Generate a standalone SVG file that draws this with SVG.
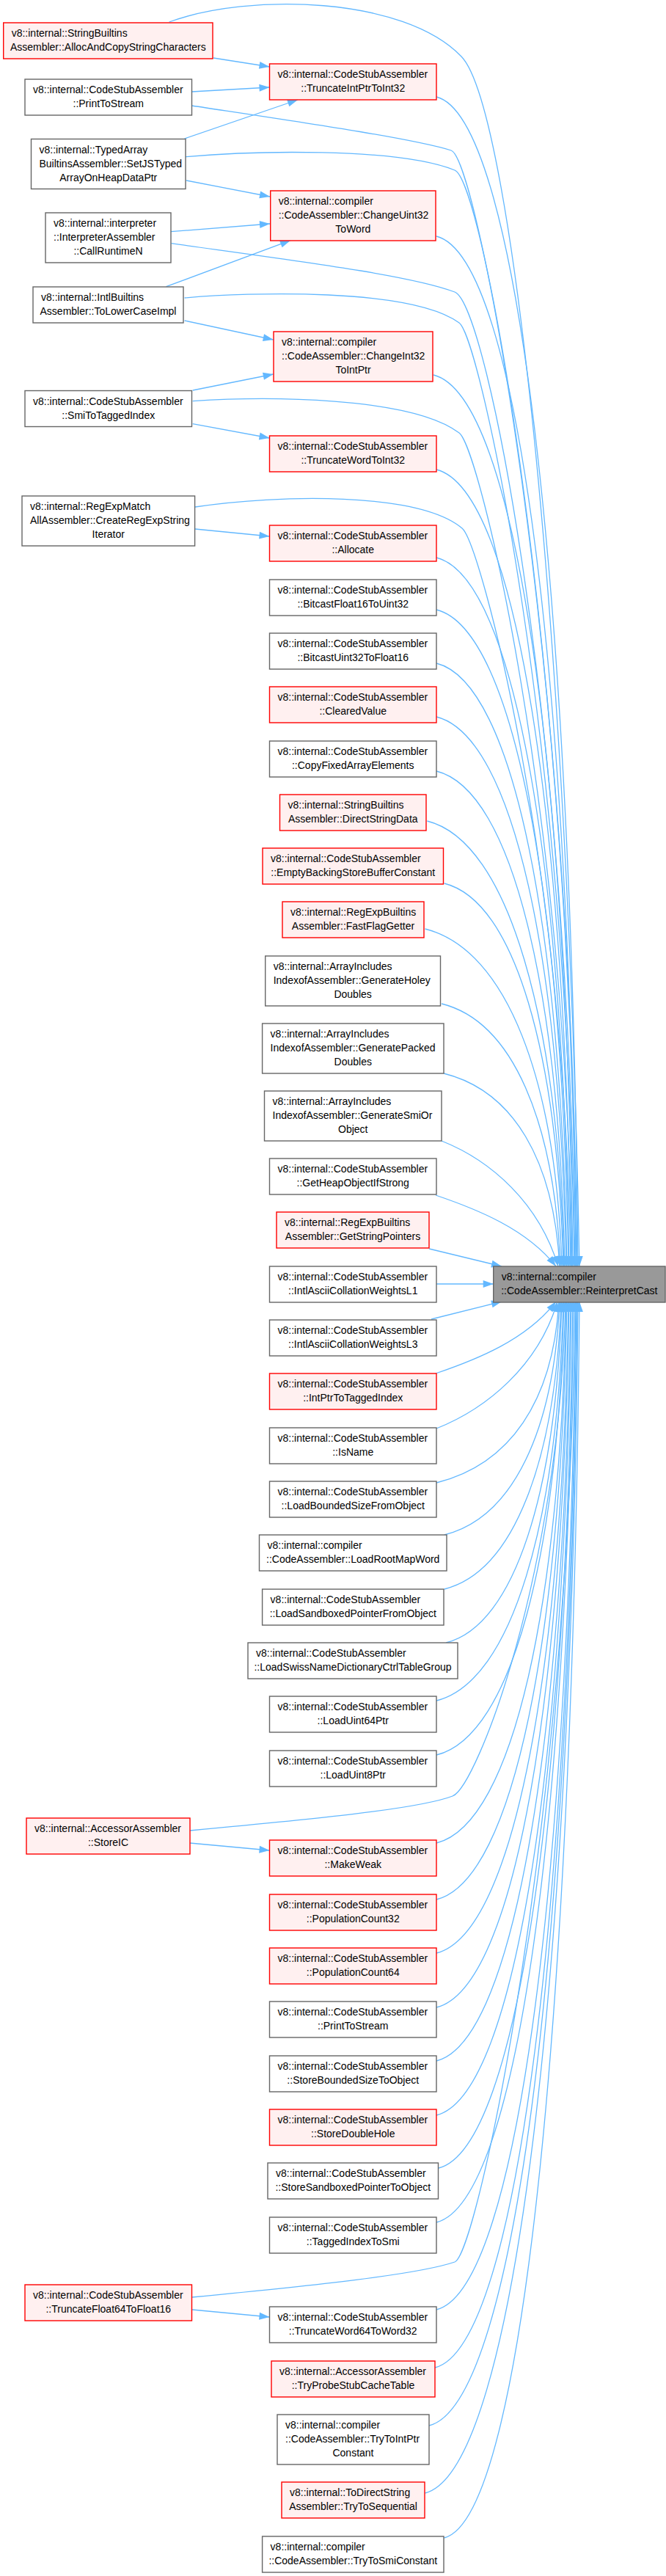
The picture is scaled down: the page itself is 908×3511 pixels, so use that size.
<svg xmlns="http://www.w3.org/2000/svg" width="908" height="3511" viewBox="0 0 908 3511">
<style>
rect{stroke-width:1.4}
.n rect{fill:#ffffff;stroke:#666666}
.r rect{fill:#fff0f0;stroke:#ff0000}
.root rect{fill:#999999;stroke:#666666}
text{font-family:"Liberation Sans",Arial,sans-serif;font-size:14px;fill:#000000}
.c{text-anchor:middle}
.edges path{fill:none;stroke:#63b8ff;stroke-width:1.3;marker-end:url(#ah)}
</style>
<defs>
<marker id="ah" markerUnits="userSpaceOnUse" markerWidth="15" markerHeight="11" refX="14" refY="5" orient="auto" overflow="visible">
<path d="M0,0 L14,5 L0,10 z" fill="#63b8ff"/>
</marker>
</defs>
<rect x="0" y="0" width="908" height="3511" fill="#ffffff" stroke="none"/>
<g id="edges" class="edges">
<path d="M291,79 L367.5,91"/>
<path d="M261.5,125 L367.5,119"/>
<path d="M251.6,189 L406,136"/>
<path d="M254,246 L368,268"/>
<path d="M233,315.7 L368,305"/>
<path d="M226.5,390.7 L396,327.7"/>
<path d="M251.6,437 L372.7,463"/>
<path d="M262.7,532 L372.7,510"/>
<path d="M262.7,577.7 L367.5,597"/>
<path d="M266,721 L367.5,731"/>
<path d="M259,2512 L367.5,2522"/>
<path d="M262,3148 L367.5,3158"/>
<path d="M230.6,30 C340,-10 550,-5 629,77 C700,150 775,900 790,1726"/>
<path d="M261.5,144 C400,165 560,188 615,205 C651,216 779,889 787,1726"/>
<path d="M253,213.7 C340,206 540,200 620,232 C660,248 778,904 786,1726"/>
<path d="M233.5,331.7 C400,355 560,375 620,398 C665,415 776,996 784,1726"/>
<path d="M251.6,406 C340,398 560,392 626,440 C655,461 775,1019 783,1726"/>
<path d="M262.7,546.7 C360,540 560,540 626,590 C654,611 772,1101 780,1726"/>
<path d="M266,691 C380,674 570,670 630,720 C655,741 770,1173 778,1726"/>
<path d="M595,132 C710.8,161 780,849 788,1726"/>
<path d="M595,322 C709,350.5 777,954 785,1726"/>
<path d="M591,511 C705,539.5 773,1058 781,1726"/>
<path d="M595,640 C705.4,667.6 771,1129 779,1726"/>
<path d="M595,760 C703.6,787 768,1195 776,1726"/>
<path d="M595,831 C703,858 767,1234 775,1726"/>
<path d="M595,904 C701.8,930.7 765,1274 773,1726"/>
<path d="M595,977 C701.2,1003.6 764,1314 772,1726"/>
<path d="M595,1051 C700,1077 762,1355 770,1726"/>
<path d="M582.4,1119 C694.4,1147 761,1392 769,1726"/>
<path d="M605.7,1204 C703,1228.3 760,1439 768,1726"/>
<path d="M579.5,1266 C691.4,1294 758,1473 766,1726"/>
<path d="M602,1368 C699.2,1392.3 756,1529 764,1726"/>
<path d="M605,1463 C699.8,1486.7 755,1581 763,1726"/>
<path d="M602,1555 C670,1582 735,1640 761,1726"/>
<path d="M594,1629 C650,1648 718,1675 758,1726"/>
<path d="M585,1702 L684,1726"/>
<path d="M595,1750 L672.7,1750"/>
<path d="M588,1798 L684,1774"/>
<path d="M594,1872 C650,1853 718,1826 758,1774"/>
<path d="M595,1947 C663,1920 734,1862 760,1774"/>
<path d="M595,2021 C695.2,1996 754,1910 762,1774"/>
<path d="M605.7,2092 C700,2068.4 755,1949 763,1774"/>
<path d="M605.7,2166 C701.3,2142 757,1989.6 765,1774"/>
<path d="M608,2239 C702.8,2215.3 758,2030 766,1774"/>
<path d="M595,2318 C698.8,2292 760,2073 768,1774"/>
<path d="M595,2392 C699.4,2366 761,2114 769,1774"/>
<path d="M259,2495 C420,2480 570,2466 617,2448 C650,2435 763,2145 771,1774"/>
<path d="M595,2512 C701.2,2485.5 764,2180 772,1774"/>
<path d="M595,2589 C701.8,2562.3 765,2222 773,1774"/>
<path d="M595,2662 C703,2635 767,2262 775,1774"/>
<path d="M595,2736 C703.6,2708.9 768,2303 776,1774"/>
<path d="M595,2809 C704.8,2781.6 770,2343 778,1774"/>
<path d="M595,2883 C705.4,2855.4 771,2384 779,1774"/>
<path d="M598,2955 C707.8,2927.6 773,2423.5 781,1774"/>
<path d="M595,3029 C707.2,3001 774,2464 782,1774"/>
<path d="M262,3131 C430,3115 570,3100 620,3083 C650,3072 776,2494 784,1774"/>
<path d="M595,3148 C709,3119.5 777,2529.7 785,1774"/>
<path d="M593,3227 C708.8,3198 778,2573 786,1774"/>
<path d="M585,3306 C706.2,3275.7 779,2616.6 787,1774"/>
<path d="M579.5,3398 C704.6,3366.7 780,2667 788,1774"/>
<path d="M605.7,3459 C716.3,3431.4 782,2701 790,1774"/>
</g>
<g id="root" class="root"><rect x="672.7" y="1726" width="234.3" height="49"/><text x="683.7" y="1745">v8::internal::compiler</text><text class="c" x="789.85" y="1764">::CodeAssembler::ReinterpretCast</text></g>
<g id="L1" class="r"><rect x="4.7" y="31" width="285.3" height="49"/><text x="15.7" y="50">v8::internal::StringBuiltins</text><text class="c" x="147.35" y="69">Assembler::AllocAndCopyStringCharacters</text></g>
<g id="L2" class="n"><rect x="34" y="108" width="227.5" height="49"/><text x="45" y="127">v8::internal::CodeStubAssembler</text><text class="c" x="147.75" y="146">::PrintToStream</text></g>
<g id="L3" class="n"><rect x="42.5" y="189.5" width="210.5" height="68"/><text x="53.5" y="208.5">v8::internal::TypedArray</text><text x="53.5" y="227.5">BuiltinsAssembler::SetJSTyped</text><text class="c" x="147.75" y="246.5">ArrayOnHeapDataPtr</text></g>
<g id="L4" class="n"><rect x="62" y="290" width="171" height="68"/><text x="73" y="309">v8::internal::interpreter</text><text x="73" y="328">::InterpreterAssembler</text><text class="c" x="147.5" y="347">::CallRuntimeN</text></g>
<g id="L5" class="n"><rect x="45" y="391" width="205" height="49"/><text x="56" y="410">v8::internal::IntlBuiltins</text><text class="c" x="147.5" y="429">Assembler::ToLowerCaseImpl</text></g>
<g id="L6" class="n"><rect x="34" y="532.5" width="227.5" height="49"/><text x="45" y="551.5">v8::internal::CodeStubAssembler</text><text class="c" x="147.75" y="570.5">::SmiToTaggedIndex</text></g>
<g id="L7" class="n"><rect x="30" y="676" width="235.6" height="68"/><text x="41" y="695">v8::internal::RegExpMatch</text><text x="41" y="714">AllAssembler::CreateRegExpString</text><text class="c" x="147.8" y="733">Iterator</text></g>
<g id="L8" class="r"><rect x="36" y="2478" width="223" height="49"/><text x="47" y="2497">v8::internal::AccessorAssembler</text><text class="c" x="147.5" y="2516">::StoreIC</text></g>
<g id="L9" class="r"><rect x="34" y="3114" width="227.5" height="49"/><text x="45" y="3133">v8::internal::CodeStubAssembler</text><text class="c" x="147.75" y="3152">::TruncateFloat64ToFloat16</text></g>
<g id="M1" class="r"><rect x="367.5" y="87" width="227.5" height="49"/><text x="378.5" y="106">v8::internal::CodeStubAssembler</text><text class="c" x="481.25" y="125">::TruncateIntPtrToInt32</text></g>
<g id="M2" class="r"><rect x="368.7" y="260" width="225.3" height="68"/><text x="379.7" y="279">v8::internal::compiler</text><text x="379.7" y="298">::CodeAssembler::ChangeUint32</text><text class="c" x="481.35" y="317">ToWord</text></g>
<g id="M3" class="r"><rect x="373" y="452" width="217" height="68"/><text x="384" y="471">v8::internal::compiler</text><text x="384" y="490">::CodeAssembler::ChangeInt32</text><text class="c" x="481.5" y="509">ToIntPtr</text></g>
<g id="M4" class="r"><rect x="367.5" y="594" width="227.5" height="49"/><text x="378.5" y="613">v8::internal::CodeStubAssembler</text><text class="c" x="481.25" y="632">::TruncateWordToInt32</text></g>
<g id="M5" class="r"><rect x="367.5" y="716" width="227.5" height="49"/><text x="378.5" y="735">v8::internal::CodeStubAssembler</text><text class="c" x="481.25" y="754">::Allocate</text></g>
<g id="M6" class="n"><rect x="367.5" y="790" width="227.5" height="49"/><text x="378.5" y="809">v8::internal::CodeStubAssembler</text><text class="c" x="481.25" y="828">::BitcastFloat16ToUint32</text></g>
<g id="M7" class="n"><rect x="367.5" y="863" width="227.5" height="49"/><text x="378.5" y="882">v8::internal::CodeStubAssembler</text><text class="c" x="481.25" y="901">::BitcastUint32ToFloat16</text></g>
<g id="M8" class="r"><rect x="367.5" y="936" width="227.5" height="49"/><text x="378.5" y="955">v8::internal::CodeStubAssembler</text><text class="c" x="481.25" y="974">::ClearedValue</text></g>
<g id="M9" class="n"><rect x="367.5" y="1010" width="227.5" height="49"/><text x="378.5" y="1029">v8::internal::CodeStubAssembler</text><text class="c" x="481.25" y="1048">::CopyFixedArrayElements</text></g>
<g id="M10" class="r"><rect x="381.5" y="1083" width="199.5" height="49"/><text x="392.5" y="1102">v8::internal::StringBuiltins</text><text class="c" x="481.25" y="1121">Assembler::DirectStringData</text></g>
<g id="M11" class="r"><rect x="358" y="1156" width="246.5" height="49"/><text x="369" y="1175">v8::internal::CodeStubAssembler</text><text class="c" x="481.25" y="1194">::EmptyBackingStoreBufferConstant</text></g>
<g id="M12" class="r"><rect x="385" y="1229" width="193" height="49"/><text x="396" y="1248">v8::internal::RegExpBuiltins</text><text class="c" x="481.5" y="1267">Assembler::FastFlagGetter</text></g>
<g id="M13" class="n"><rect x="361.7" y="1303" width="238.8" height="68"/><text x="372.7" y="1322">v8::internal::ArrayIncludes</text><text x="372.7" y="1341">IndexofAssembler::GenerateHoley</text><text class="c" x="481.1" y="1360">Doubles</text></g>
<g id="M14" class="n"><rect x="357.6" y="1395" width="247.4" height="68"/><text x="368.6" y="1414">v8::internal::ArrayIncludes</text><text x="368.6" y="1433">IndexofAssembler::GeneratePacked</text><text class="c" x="481.3" y="1452">Doubles</text></g>
<g id="M15" class="n"><rect x="360.5" y="1487" width="241.5" height="68"/><text x="371.5" y="1506">v8::internal::ArrayIncludes</text><text x="371.5" y="1525">IndexofAssembler::GenerateSmiOr</text><text class="c" x="481.25" y="1544">Object</text></g>
<g id="M16" class="n"><rect x="367.5" y="1579" width="227.5" height="49"/><text x="378.5" y="1598">v8::internal::CodeStubAssembler</text><text class="c" x="481.25" y="1617">::GetHeapObjectIfStrong</text></g>
<g id="M17" class="r"><rect x="377" y="1652" width="208" height="49"/><text x="388" y="1671">v8::internal::RegExpBuiltins</text><text class="c" x="481" y="1690">Assembler::GetStringPointers</text></g>
<g id="M18" class="n"><rect x="367.5" y="1726" width="227.5" height="49"/><text x="378.5" y="1745">v8::internal::CodeStubAssembler</text><text class="c" x="481.25" y="1764">::IntlAsciiCollationWeightsL1</text></g>
<g id="M19" class="n"><rect x="367.5" y="1799" width="227.5" height="49"/><text x="378.5" y="1818">v8::internal::CodeStubAssembler</text><text class="c" x="481.25" y="1837">::IntlAsciiCollationWeightsL3</text></g>
<g id="M20" class="r"><rect x="367.5" y="1872" width="227.5" height="49"/><text x="378.5" y="1891">v8::internal::CodeStubAssembler</text><text class="c" x="481.25" y="1910">::IntPtrToTaggedIndex</text></g>
<g id="M21" class="n"><rect x="367.5" y="1946" width="227.5" height="49"/><text x="378.5" y="1965">v8::internal::CodeStubAssembler</text><text class="c" x="481.25" y="1984">::IsName</text></g>
<g id="M22" class="n"><rect x="367.5" y="2019" width="227.5" height="49"/><text x="378.5" y="2038">v8::internal::CodeStubAssembler</text><text class="c" x="481.25" y="2057">::LoadBoundedSizeFromObject</text></g>
<g id="M23" class="n"><rect x="353.5" y="2092" width="255.5" height="49"/><text x="364.5" y="2111">v8::internal::compiler</text><text class="c" x="481.25" y="2130">::CodeAssembler::LoadRootMapWord</text></g>
<g id="M24" class="n"><rect x="357.6" y="2166" width="247.4" height="49"/><text x="368.6" y="2185">v8::internal::CodeStubAssembler</text><text class="c" x="481.3" y="2204">::LoadSandboxedPointerFromObject</text></g>
<g id="M25" class="n"><rect x="338" y="2239" width="286" height="49"/><text x="349" y="2258">v8::internal::CodeStubAssembler</text><text class="c" x="481" y="2277">::LoadSwissNameDictionaryCtrlTableGroup</text></g>
<g id="M26" class="n"><rect x="367.5" y="2312" width="227.5" height="49"/><text x="378.5" y="2331">v8::internal::CodeStubAssembler</text><text class="c" x="481.25" y="2350">::LoadUint64Ptr</text></g>
<g id="M27" class="n"><rect x="367.5" y="2386" width="227.5" height="49"/><text x="378.5" y="2405">v8::internal::CodeStubAssembler</text><text class="c" x="481.25" y="2424">::LoadUint8Ptr</text></g>
<g id="M28" class="r"><rect x="367.5" y="2508" width="227.5" height="49"/><text x="378.5" y="2527">v8::internal::CodeStubAssembler</text><text class="c" x="481.25" y="2546">::MakeWeak</text></g>
<g id="M29" class="r"><rect x="367.5" y="2582" width="227.5" height="49"/><text x="378.5" y="2601">v8::internal::CodeStubAssembler</text><text class="c" x="481.25" y="2620">::PopulationCount32</text></g>
<g id="M30" class="r"><rect x="367.5" y="2655" width="227.5" height="49"/><text x="378.5" y="2674">v8::internal::CodeStubAssembler</text><text class="c" x="481.25" y="2693">::PopulationCount64</text></g>
<g id="M31" class="n"><rect x="367.5" y="2728" width="227.5" height="49"/><text x="378.5" y="2747">v8::internal::CodeStubAssembler</text><text class="c" x="481.25" y="2766">::PrintToStream</text></g>
<g id="M32" class="n"><rect x="367.5" y="2802" width="227.5" height="49"/><text x="378.5" y="2821">v8::internal::CodeStubAssembler</text><text class="c" x="481.25" y="2840">::StoreBoundedSizeToObject</text></g>
<g id="M33" class="r"><rect x="367.5" y="2875" width="227.5" height="49"/><text x="378.5" y="2894">v8::internal::CodeStubAssembler</text><text class="c" x="481.25" y="2913">::StoreDoubleHole</text></g>
<g id="M34" class="n"><rect x="365" y="2948" width="232.5" height="49"/><text x="376" y="2967">v8::internal::CodeStubAssembler</text><text class="c" x="481.25" y="2986">::StoreSandboxedPointerToObject</text></g>
<g id="M35" class="n"><rect x="367.5" y="3022" width="227.5" height="49"/><text x="378.5" y="3041">v8::internal::CodeStubAssembler</text><text class="c" x="481.25" y="3060">::TaggedIndexToSmi</text></g>
<g id="M36" class="n"><rect x="367.5" y="3144" width="227.5" height="49"/><text x="378.5" y="3163">v8::internal::CodeStubAssembler</text><text class="c" x="481.25" y="3182">::TruncateWord64ToWord32</text></g>
<g id="M37" class="r"><rect x="370" y="3218" width="223" height="49"/><text x="381" y="3237">v8::internal::AccessorAssembler</text><text class="c" x="481.5" y="3256">::TryProbeStubCacheTable</text></g>
<g id="M38" class="n"><rect x="378" y="3291" width="207" height="68"/><text x="389" y="3310">v8::internal::compiler</text><text x="389" y="3329">::CodeAssembler::TryToIntPtr</text><text class="c" x="481.5" y="3348">Constant</text></g>
<g id="M39" class="r"><rect x="384" y="3383" width="195" height="49"/><text x="395" y="3402">v8::internal::ToDirectString</text><text class="c" x="481.5" y="3421">Assembler::TryToSequential</text></g>
<g id="M40" class="n"><rect x="357.6" y="3457" width="247.4" height="49"/><text x="368.6" y="3476">v8::internal::compiler</text><text class="c" x="481.3" y="3495">::CodeAssembler::TryToSmiConstant</text></g>
</svg>
